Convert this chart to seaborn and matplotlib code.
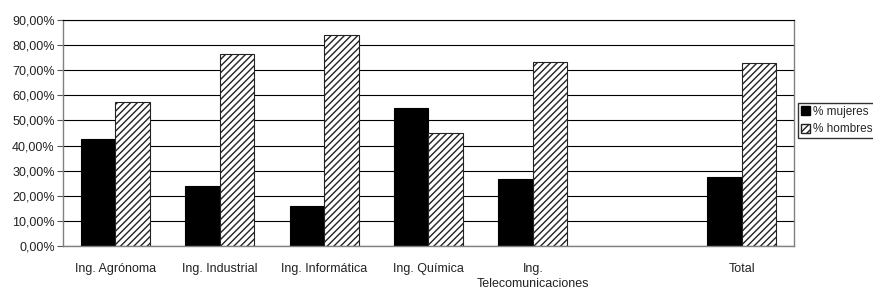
import numpy as np
import pandas as pd
import matplotlib
matplotlib.use("Agg")
import matplotlib.pyplot as plt
import seaborn as sns
from matplotlib.patches import Patch
from matplotlib.ticker import FuncFormatter, MultipleLocator

# data
carreras = ["Ing. Agrónoma", "Ing. Industrial", "Ing. Informática", "Ing. Química",
            "Ing.\nTelecomunicaciones", " ", "Total"]
mujeres = [42.8, 23.7, 15.9, 55.0, 26.6, np.nan, 27.3]
hombres = [57.2, 76.3, 84.1, 45.0, 73.4, np.nan, 72.7]
series = ["% mujeres", "% hombres"]

df = pd.DataFrame({
    "carrera": carreras * 2,
    "sexo": [series[0]] * len(carreras) + [series[1]] * len(carreras),
    "pct": mujeres + hombres,
}).dropna()

sns.set_style("white")
plt.rcParams["font.family"] = ["Liberation Sans Narrow", "Liberation Sans", "DejaVu Sans"]
plt.rcParams["hatch.linewidth"] = 1.0

fig = plt.figure(figsize=(8.73, 2.92), dpi=100)
ax = fig.add_axes([63 / 873, 1 - 246 / 292, (794 - 63) / 873, 226 / 292])

sns.barplot(data=df, x="carrera", y="pct", hue="sexo", order=carreras, hue_order=series,
            palette=["black", "white"], saturation=1, width=0.66, edgecolor="black",
            linewidth=0.8, legend=False, ax=ax)

# hatch the men's bars
for bar in ax.containers[1]:
    bar.set_hatch("/////")
    bar.set_edgecolor("#222222")

ax.set_ylim(0, 90)
ax.set_xlim(-0.5, len(carreras) - 0.5)
ax.yaxis.set_major_locator(MultipleLocator(10))
ax.yaxis.set_major_formatter(FuncFormatter(lambda v, p: f"{v:.2f}%".replace(".", ",")))
ax.yaxis.grid(True, color="black", linewidth=0.8)
ax.set_axisbelow(True)

ax.set_xticks(range(len(carreras)))
ax.set_xticklabels(carreras, fontsize=9, color="#222222", linespacing=1.35)
ax.set_xticks(np.arange(-0.5, len(carreras), 1), minor=True)
ax.tick_params(axis="x", which="major", length=0, pad=12)
ax.tick_params(axis="x", which="minor", length=4, width=0.8, color="#555555", direction="out")
ax.tick_params(axis="y", length=4, width=0.8, color="#555555", direction="out",
               labelsize=9, labelcolor="#222222", pad=2, left=True)
ax.set_xlabel("")
ax.set_ylabel("")

for side in ["left", "bottom", "right"]:
    ax.spines[side].set_color("#808080")
    ax.spines[side].set_linewidth(1.0)
ax.spines["top"].set_color("black")
ax.spines["top"].set_linewidth(0.8)

handles = [Patch(facecolor="black", edgecolor="black"),
           Patch(facecolor="white", edgecolor="#222222", hatch="/////")]
fig.legend(handles, series, loc="upper left", bbox_to_anchor=(798 / 873, 1 - 103 / 292),
           frameon=True, fancybox=False, edgecolor="black", fontsize=8.5,
           handlelength=0.8, handleheight=0.8, handletextpad=0.25,
           borderpad=0.25, labelspacing=0.45, borderaxespad=0)

fig.savefig("out.png", dpi=100)
